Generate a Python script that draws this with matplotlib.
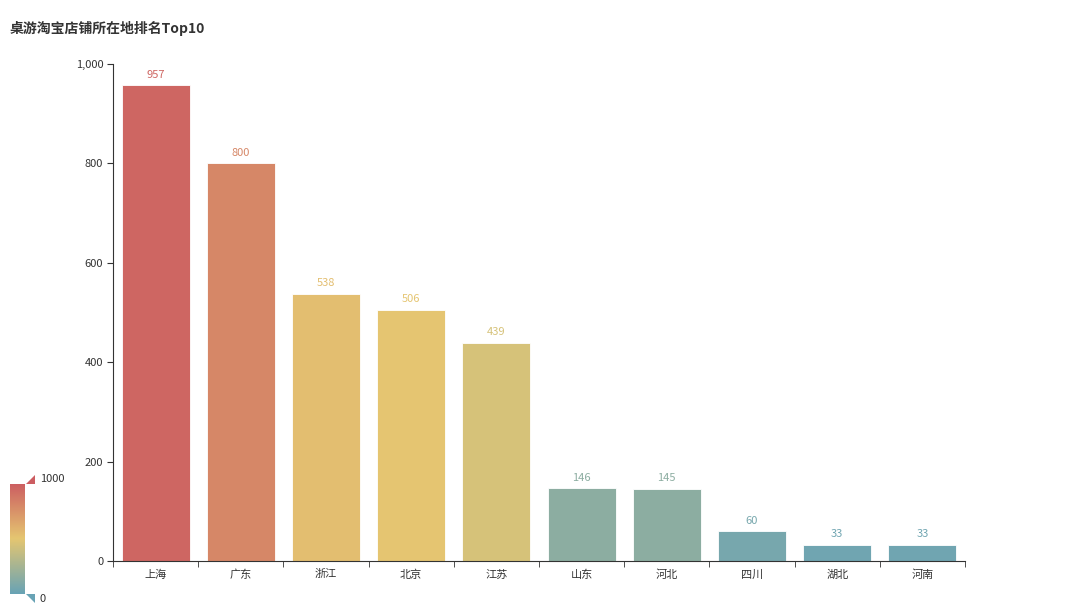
import numpy as np
import matplotlib.pyplot as plt
from matplotlib.colors import LinearSegmentedColormap, Normalize
from matplotlib.patches import Polygon

plt.rcParams['font.family'] = ['Noto Sans CJK SC', 'DejaVu Sans']

# data
provinces = ['上海', '广东', '浙江', '北京', '江苏', '山东', '河北', '四川', '湖北', '河南']
shops = [957, 800, 538, 506, 439, 146, 145, 60, 33, 33]
title = '桌游淘宝店铺所在地排名Top10'
vmin, vmax = 0, 1000

cmap = LinearSegmentedColormap.from_list('vm', ['#68a3b5', '#e5c671', '#cc5d61'])
norm = Normalize(vmin, vmax)

W, H = 1080, 615
fig = plt.figure(figsize=(W / 100, H / 100), dpi=100)

ax = fig.add_axes([113 / W, 1 - 561 / H, (965 - 113) / W, (561 - 64) / H])
x = np.arange(len(provinces))
colors = [cmap(norm(v)) for v in shops]
bars = ax.bar(x, shops, width=0.8, color=colors, edgecolor='white', linewidth=0.6)
for xi, v, c in zip(x, shops, colors):
    ax.annotate(str(v), (xi, v), xytext=(0, 4), textcoords='offset points',
                ha='center', va='bottom', fontsize=8, color=c)

ax.set_xlim(-0.5, len(provinces) - 0.5)
ax.set_ylim(0, 1000)
ax.set_yticks(range(0, 1001, 200))
ax.set_yticklabels(['{:,}'.format(t) for t in range(0, 1001, 200)])
ax.set_xticks(x)
ax.set_xticklabels(provinces)
ax.set_xticks(np.arange(-0.5, len(provinces)), minor=True)
ax.tick_params(axis='x', which='major', length=0, pad=6, labelsize=8, labelcolor='#333333')
ax.tick_params(axis='x', which='minor', length=4, color='#333333')
ax.tick_params(axis='y', length=4, pad=3, labelsize=8, labelcolor='#333333', color='#333333')
for s in ['top', 'right']:
    ax.spines[s].set_visible(False)
ax.spines['left'].set_color('#333333')
ax.spines['bottom'].set_color('#333333')
ax.spines['left'].set_linewidth(0.8)
ax.spines['bottom'].set_linewidth(0.8)

fig.text(10 / W, 1 - 28 / H, title, fontsize=10, fontweight='bold', color='#333333',
         va='center', ha='left')

# visual map bar
cax = fig.add_axes([10 / W, 1 - 594 / H, 15 / W, 110 / H])
grad = np.linspace(vmax, vmin, 256).reshape(-1, 1)
cax.imshow(grad, aspect='auto', cmap=cmap, norm=norm)
cax.axis('off')

over = fig.add_axes([0, 0, 1, 1], facecolor='none')
over.set_xlim(0, W)
over.set_ylim(H, 0)
over.axis('off')
over.add_patch(Polygon([(26, 484), (35, 484), (35, 475)], closed=True, color=cmap(1.0), lw=0))
over.add_patch(Polygon([(26, 594), (35, 594), (35, 603)], closed=True, color=cmap(0.0), lw=0))
over.text(40, 479, str(vmax), fontsize=8, color='#333333', va='center', ha='left')
over.text(40, 599, str(vmin), fontsize=8, color='#333333', va='center', ha='left')

fig.savefig('out.png', dpi=100)
